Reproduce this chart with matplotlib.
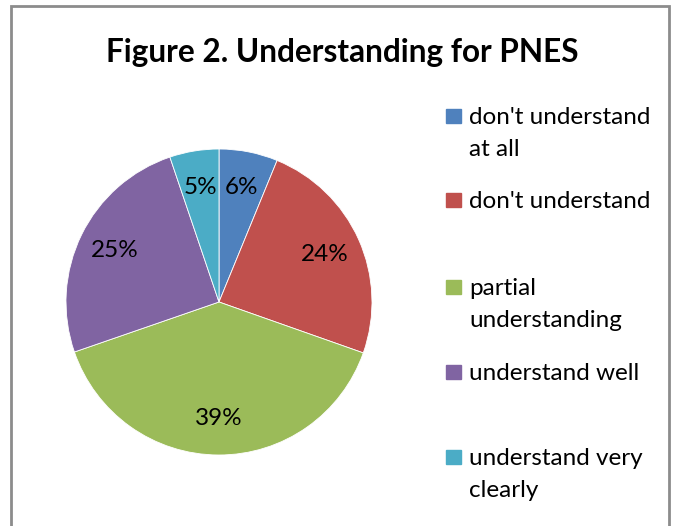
import matplotlib.pyplot as plt
from matplotlib.patches import Rectangle

# data
labels = ["don't understand\nat all", "don't understand", "partial\nunderstanding",
          "understand well", "understand very\nclearly"]
values = [6.2, 24.2, 39.3, 25.1, 5.2]
colors = ["#4F81BD", "#C0504D", "#9BBB59", "#8064A2", "#4BACC6"]

plt.rcParams['font.family'] = ['Lato', 'DejaVu Sans']

W, H = 676, 526
fig = plt.figure(figsize=(W / 100, H / 100), dpi=100)

# chart border (bottom edge runs off the image)
fig.patches.append(Rectangle((11 / W, -0.05), (669 - 11) / W, 1.05 - 6 / H,
                             transform=fig.transFigure, fill=False,
                             edgecolor='#8c8c8c', linewidth=2))

fig.text(342 / W, 1 - 62 / H, "Figure 2. Understanding for PNES",
         ha='center', va='baseline', fontsize=22.7, fontweight='bold')

# pie: centre (219, 302), radius 153 px
ax = fig.add_axes([66 / W, 1 - 455 / H, 306 / W, 306 / H])
ax.pie(values, colors=colors, startangle=90, counterclock=False,
       autopct='%.0f%%', pctdistance=0.76,
       wedgeprops=dict(edgecolor='white', linewidth=0.6),
       textprops=dict(fontsize=17.5, color='black'))
ax.set_xlim(-1, 1)
ax.set_ylim(-1, 1)
ax.set_aspect('equal')
ax.axis('off')

# legend drawn by hand; baseline of the first line of each entry
baselines = [124, 208, 295, 380, 465]
line_gap = 32
for lab, col, y in zip(labels, colors, baselines):
    fig.patches.append(Rectangle((446 / W, 1 - (y - 1) / H), 15 / W, 14 / H,
                                 transform=fig.transFigure, color=col))
    for i, line in enumerate(lab.split("\n")):
        fig.text(469 / W, 1 - (y + i * line_gap) / H, line, ha='left',
                 va='baseline', fontsize=17.5)

fig.savefig("out.png", dpi=100)
